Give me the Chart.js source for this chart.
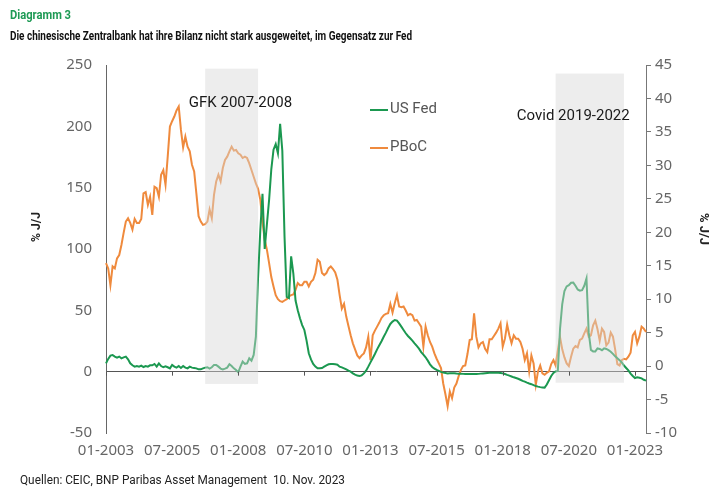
<!DOCTYPE html>
<html>
<head>
<meta charset="utf-8">
<script src="https://cdn.jsdelivr.net/npm/chart.js@4.4.0/dist/chart.umd.min.js"></script>
<style>
  html, body { margin: 0; background: #fff; }
  canvas { display: block; }
</style>
</head>
<body>
<canvas id="chart" width="725" height="495"></canvas>
<script>
// monthly labels 01-2003 .. 06-2023
const months = [];
for (let m = 0; m < 246; m++) {
  const mm = String(m % 12 + 1).padStart(2, '0');
  months.push(mm + '-' + (2003 + Math.floor(m / 12)));
}

const tickLabels = ['01-2003', '07-2005', '01-2008', '07-2010', '01-2013', '07-2015', '01-2018', '07-2020', '01-2023'];

// US Fed, % J/J (left axis)
const usFed = [
  6.8, 10.4, 13.1, 13.6, 12.3, 11.4, 12.3, 10.9, 11.7, 12.3,
  10.1, 6.8, 5.2, 4.1, 4.6, 4.1, 4.9, 3.8, 4.6, 4.1,
  5.2, 5.2, 6.3, 4.1, 6.8, 4.6, 3.6, 4.4, 3.6, 2.7,
  5.5, 4.1, 3.3, 4.6, 3.0, 4.6, 3.3, 2.7, 4.1, 3.3,
  3.0, 2.7, 1.9, 1.9, 2.7, 3.3, 3.6, 2.5, 3.6, 5.5,
  5.5, 4.1, 2.5, 1.9, 2.5, 3.3, 6.0, 4.6, 2.7, 1.4,
  -0.5, 4.1, 8.2, 6.3, 6.8, 10.9, 9.0, 13.6, 28.5, 77,
  115, 145, 100, 120, 140, 165, 181, 185.5, 178, 202,
  180, 110, 61, 60, 94, 80, 58, 50, 43.5, 38,
  34, 25.3, 15, 10, 6.3, 4.1, 2.7, 2.7, 3.0, 4.1,
  5.2, 6.0, 6.3, 6.3, 6.0, 5.7, 4.1, 3.5, 2.7, 1.9,
  0.8, 0, -1.4, -2.4, -3.2, -3.5, -3.0, -1.4, 0.8, 4.1,
  7.6, 10.9, 14.4, 18.2, 21.5, 24.8, 28.5, 31.8, 35.6, 38.9,
  40.8, 42.1, 41.6, 39.4, 36.7, 34, 31.3, 29.1, 27.2, 25.3,
  23.1, 21, 18.8, 16, 13.9, 11.7, 9, 6, 3.8, 2.5,
  1.4, 0.6, -0.2, -0.8, -1.1, -1.4, -1.3, -1.3, -1.3, -1.5,
  -1.6, -1.7, -1.8, -1.9, -1.9, -1.9, -1.9, -1.9, -1.9, -1.8,
  -1.6, -1.4, -1.2, -1.0, -0.8, -0.8, -0.8, -0.8, -0.9, -1.1,
  -1.4, -1.9, -2.6, -3.2, -3.9, -4.6, -5.2, -5.8, -6.6, -7.5,
  -8.1, -8.9, -9.6, -10.2, -11, -11.7, -12.2, -12.6, -12.9, -13,
  -10.5, -7, -3.5, -1, 0.2, 0.6, 35, 55, 65.8, 69.5,
  70.5, 72.5, 72.6, 70, 67, 66, 66.5, 70, 76, 32,
  17.7, 16.5, 16.5, 18.9, 18.5, 17.5, 19, 18.5, 17.5, 16.3,
  14.5, 12.5, 11, 9.4, 7.5, 5, 3, 1, -1.6, -3.5,
  -5.2, -4.6, -4.9, -5.5, -6.6, -7.3
];

// PBoC, % J/J (right axis)
const pboc = [
  15.4, 14.6, 12.1, 14.9, 14.6, 16.1, 16.6, 18.1, 19.9, 21.6,
  22.1, 21.4, 20.4, 22.0, 21.4, 21.4, 22.0, 25.8, 26.0, 24.1,
  25.3, 22.6, 26.8, 26.6, 25.3, 28.6, 29.3, 27.1, 31.3, 35.8,
  36.6, 37.3, 38.2, 38.8, 35.3, 32.7, 34.3, 32.8, 32.1, 30.1,
  29.1, 25.8, 22.4, 21.6, 21.1, 21.2, 21.6, 23.4, 22.1, 25.6,
  27.6, 28.6, 27.6, 29.6, 30.8, 31.3, 32.1, 32.8, 32.2, 32.3,
  31.8, 31.6, 31.1, 31.3, 31.1, 30.3, 29.3, 28.3, 27.3, 26.5,
  24.9, 21.6, 18.9, 17.4, 15.4, 13.3, 11.9, 10.6, 10.0, 9.7,
  9.6, 9.8, 10.0, 10.4, 10.6, 10.7, 11.4, 12.4, 12.1, 12.1,
  12.6, 12.6, 11.9, 12.6, 12.9, 13.9, 15.9, 15.6, 13.9, 13.6,
  13.9, 14.6, 14.9, 14.5, 14.0, 12.9, 10.6, 8.6, 9.3, 7.4,
  6.0, 4.6, 3.4, 2.5, 1.6, 1.2, 1.6, 1.9, 2.8, 4.4,
  0.9, 4.6, 5.3, 5.9, 6.5, 7.2, 7.6, 7.8, 7.9, 9.3,
  8.0, 9.4, 10.6, 8.9, 8.8, 8.9, 8.3, 7.6, 7.8, 7.6,
  6.8, 6.9, 6.4, 5.9, 2.9, 5.9, 4.6, 3.6, 2.9, 1.9,
  1.1, 0.4, -0.3, -2.6, -4.2, -6.0, -3.8, -4.8, -3.2, -2.6,
  -1.5, -0.6, 0.0, 0.1, 1.8, 3.9, 4.0, 7.9, 4.4, 2.8,
  3.4, 3.6, 2.6, 2.1, 4.0, 4.0, 4.5, 5.0, 5.6, 6.4,
  2.9, 4.1, 6.2, 4.6, 3.4, 4.6, 4.1, 4.1, 3.6, 2.6,
  0.9, 1.9, -0.8, 1.6, 0.4, -2.8, -0.8, 0.1, -1.1, -1.3,
  -1.0, -0.8, 0.3, 0.9, 0.1, 2.4, 4.3, 2.5, 1.3, 0.4,
  0.0, 1.4, 2.6, 3.0, 2.8, 3.9, 4.1, 4.9, 5.6, 4.4,
  4.6, 6.1, 6.8, 5.5, 3.8, 5.6, 5.1, 3.1, 3.5, 5.0,
  4.4, 2.5, 0.3, 0.1, 0.9, 1.1, 1.0, 1.4, 2.0, 4.6,
  5.1, 3.4, 4.4, 5.9, 5.6, 5.1
];

// crisis periods (shaded)
const periodNames = ['GFK 2007-2008', 'Covid 2019-2022'];
const periodStart = ['10-2006', '01-2020'];
const periodEnd = ['10-2008', '08-2022'];

const GREEN = '#1b9850';
const ORANGE = '#ef8a3d';
const TICK_FONT = { family: '"Noto Sans", sans-serif', size: 15 };

const shade = { top: 247, bottom: -10, text: [['02-2008', 219], ['09-2020', 208]] };

const overlay = {
  id: 'overlay',
  afterDatasetsDraw(chart) {
    const { ctx, scales: { x, y } } = chart;
    ctx.save();
    // grey periods over the lines
    ctx.fillStyle = 'rgba(215,215,215,0.45)';
    periodNames.forEach((name, i) => {
      const x0 = x.getPixelForValue(months.indexOf(periodStart[i]));
      const x1 = x.getPixelForValue(months.indexOf(periodEnd[i]));
      const y0 = y.getPixelForValue(shade.top - i * 4);
      const y1 = y.getPixelForValue(shade.bottom + i);
      ctx.fillRect(x0, y0, x1 - x0, y1 - y0);
    });
    // small ticks under the zero line
    const zero = y.getPixelForValue(0);
    ctx.strokeStyle = '#555';
    ctx.lineWidth = 1;
    tickLabels.forEach(l => {
      const px = Math.round(x.getPixelForValue(months.indexOf(l))) + 0.5;
      ctx.beginPath();
      ctx.moveTo(px, zero);
      ctx.lineTo(px, zero + 4);
      ctx.stroke();
    });
    ctx.restore();
  },
  afterDraw(chart) {
    const { ctx, scales: { x, y } } = chart;
    ctx.save();
    ctx.textBaseline = 'middle';

    // period captions
    ctx.fillStyle = '#1a1a1a';
    ctx.font = '15px Roboto, sans-serif';
    ctx.textAlign = 'center';
    periodNames.forEach((name, i) => {
      const [lbl, val] = shade.text[i];
      ctx.fillText(name, x.getPixelForValue(months.indexOf(lbl)), y.getPixelForValue(val));
    });

    // legend
    ctx.textAlign = 'left';
    ctx.font = '15px Roboto, sans-serif';
    [['US Fed', GREEN, 110], ['PBoC', ORANGE, 148]].forEach(([t, c, py]) => {
      ctx.strokeStyle = c;
      ctx.lineWidth = 2;
      ctx.beginPath();
      ctx.moveTo(370, py);
      ctx.lineTo(388, py);
      ctx.stroke();
      ctx.fillStyle = '#555';
      ctx.fillText(t, 390, py - 1);
    });

    // title, subtitle, source
    ctx.fillStyle = '#1e9a55';
    ctx.font = 'bold 13px Roboto, sans-serif';
    ctx.fillText('Diagramm 3', 10, 16, 61);
    ctx.fillStyle = '#111';
    ctx.fillText('Die chinesische Zentralbank hat ihre Bilanz nicht stark ausgeweitet, im Gegensatz zur Fed', 10, 37, 402);
    ctx.fillStyle = '#222';
    ctx.font = '12px Roboto, sans-serif';
    ctx.fillText('Quellen: CEIC, BNP Paribas Asset Management  10. Nov. 2023', 20, 481, 325);

    // axis titles
    ctx.fillStyle = '#222';
    ctx.font = 'bold 13px Roboto, sans-serif';
    ctx.textAlign = 'center';
    ctx.save();
    ctx.translate(37, 227);
    ctx.rotate(-Math.PI / 2);
    ctx.fillText('% J/J', 0, 0, 30);
    ctx.restore();
    ctx.save();
    ctx.translate(703, 229);
    ctx.rotate(Math.PI / 2);
    ctx.fillText('% J/J', 0, 0, 32);
    ctx.restore();

    ctx.restore();
  }
};

new Chart(document.getElementById('chart'), {
  type: 'line',
  data: {
    labels: months,
    datasets: [
      { label: 'US Fed', data: usFed, yAxisID: 'y', borderColor: GREEN, borderWidth: 2 },
      { label: 'PBoC', data: pboc, yAxisID: 'y1', borderColor: ORANGE, borderWidth: 2 }
    ]
  },
  options: {
    responsive: false,
    animation: false,
    elements: { point: { radius: 0 }, line: { tension: 0 } },
    layout: { padding: { left: 20, right: 20, top: 65, bottom: 32 } },
    plugins: { legend: { display: false }, tooltip: { enabled: false } },
    scales: {
      x: {
        grid: { display: false, drawTicks: false },
        border: { display: false },
        ticks: {
          autoSkip: false,
          maxRotation: 0,
          padding: 9,
          color: '#666',
          font: TICK_FONT,
          callback: (v, i) => tickLabels.includes(months[i]) ? months[i] : null
        },
        afterFit: s => { s.height = 30; }
      },
      y: {
        position: 'left',
        min: -50,
        max: 250,
        ticks: { stepSize: 50, padding: 14, color: '#666', font: TICK_FONT },
        grid: {
          drawTicks: false,
          color: c => c.tick && c.tick.value === 0 ? '#555' : 'transparent'
        },
        border: { display: true, color: '#666' },
        afterFit: s => { s.width = 86; }
      },
      y1: {
        position: 'right',
        min: -10,
        max: 45,
        ticks: { stepSize: 5, padding: 4, color: '#666', font: TICK_FONT },
        grid: { drawOnChartArea: false, tickLength: 5, tickColor: '#777' },
        border: { display: true, color: '#777' },
        afterFit: s => { s.width = 59; }
      }
    }
  },
  plugins: [overlay]
});
</script>
</body>
</html>
